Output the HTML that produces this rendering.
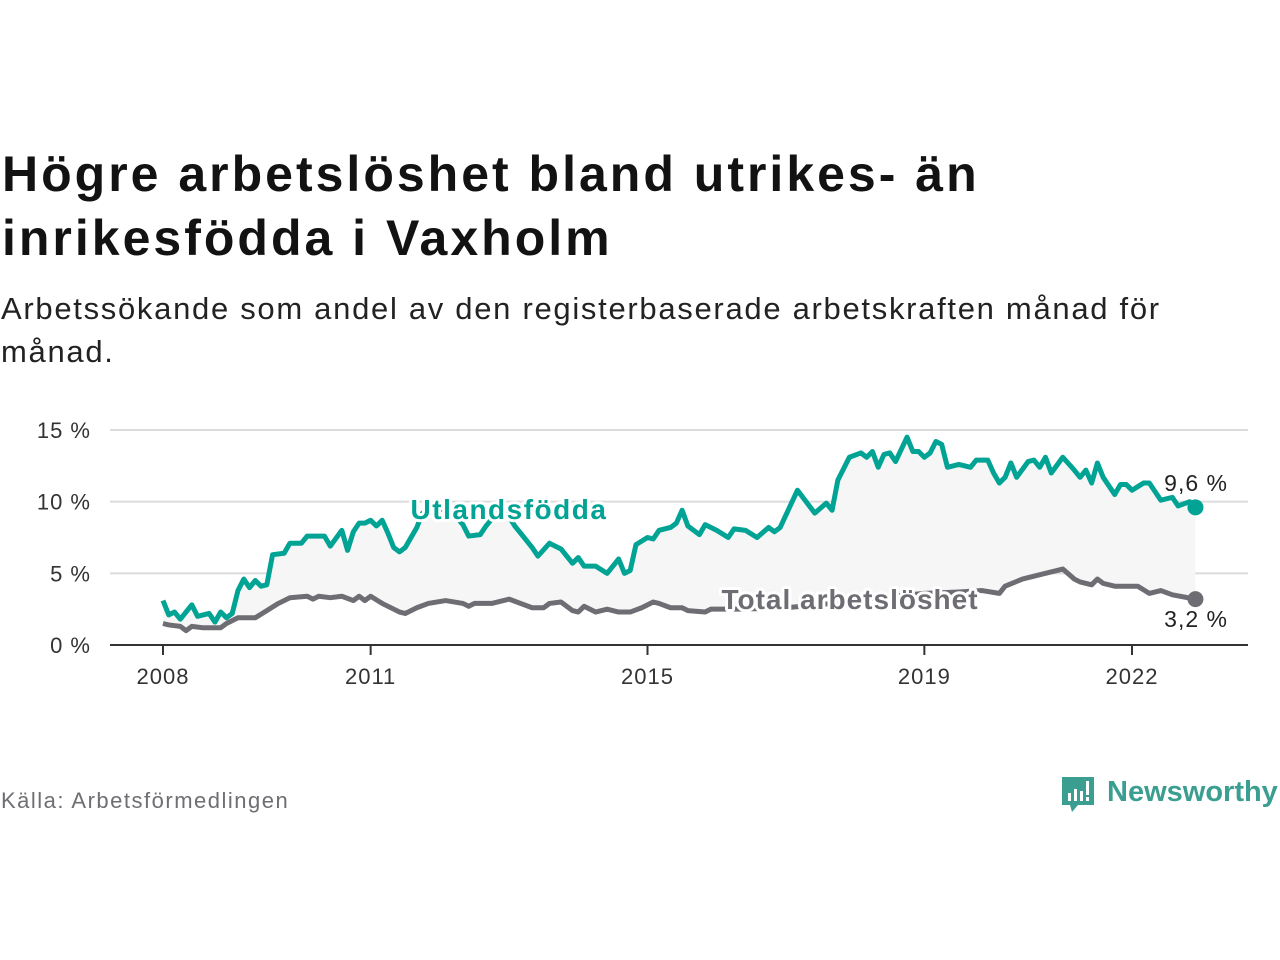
<!DOCTYPE html>
<html><head><meta charset="utf-8">
<style>
body{margin:0;background:#fff;width:1280px;height:960px;overflow:hidden;font-family:"Liberation Sans","DejaVu Sans",sans-serif;}
#title{position:absolute;left:2px;top:142px;font-size:50px;font-weight:bold;line-height:64px;color:#121212;margin:0;letter-spacing:3px}
#sub{position:absolute;left:1px;top:287px;font-size:31px;line-height:43px;color:#222;letter-spacing:1.7px}
#src{position:absolute;left:1px;top:788px;font-size:22px;color:#6e6e73;letter-spacing:1.5px}
#logo{position:absolute;left:1060px;top:773px;}
svg text{font-family:"Liberation Sans","DejaVu Sans",sans-serif}
</style></head><body>
<h1 id="title">Högre arbetslöshet bland utrikes- än<br>inrikesfödda i Vaxholm</h1>
<div id="sub">Arbetssökande som andel av den registerbaserade arbetskraften månad för<br>månad.</div>
<div id="src">Källa: Arbetsförmedlingen</div>
<svg id="logo" width="220" height="46">
<path d="M2 4 h32 v28 h-16 l-6 7 l-2 -7 h-8 z" fill="#3a9e91"/>
<rect x="8" y="20" width="3" height="8" fill="#fff"/><rect x="14" y="16" width="3" height="12" fill="#fff"/><rect x="20" y="18" width="3" height="10" fill="#fff"/><rect x="26" y="8" width="3" height="14" fill="#fff"/><rect x="26" y="24" width="3" height="4" fill="#fff"/>
<text x="47" y="28" font-size="29" font-weight="bold" fill="#3a9e91">Newsworthy</text>
</svg>
<svg id="chart" width="1280" height="960" style="position:absolute;left:0;top:0"></svg>
<script>
const yTicks=[0,5,10,15];
const yTickLabels=["0 %","5 %","10 %","15 %"];
const xTickYears=[2008,2011,2015,2019,2022];
const foreignMonths=[0,1,2,3,5,6,8,9,10,11,12,13,14,15,16,17,18,19,21,22,24,25,28,29,31,32,33,34,35,36,37,38,39,40,41,42,44,45,47,50,52,53,55,56,58,59,61,63,64,65,67,69,71,72,73,75,77,79,80,81,82,84,85,86,88,89,90,91,93,94,96,98,99,101,103,105,106,107,110,113,115,116,117,119,121,122,123,124,125,126,127,129,130,131,132,133,134,135,136,138,140,141,143,144,145,146,147,148,150,151,152,153,154,156,158,159,160,161,162,163,165,166,167,168,170,171,173,175,176,178,179];
const foreignValues=[3.1,2.1,2.3,1.8,2.8,2.0,2.2,1.6,2.3,1.9,2.2,3.8,4.6,4.0,4.5,4.1,4.2,6.3,6.4,7.1,7.1,7.6,7.6,6.9,8.0,6.6,7.9,8.5,8.5,8.7,8.3,8.7,7.8,6.8,6.5,6.8,8.2,9.2,9.6,9.3,8.4,7.6,7.7,8.3,9.3,9.6,8.3,7.3,6.8,6.2,7.1,6.7,5.7,6.1,5.5,5.5,5.0,6.0,5.0,5.2,7.0,7.5,7.4,8.0,8.2,8.5,9.4,8.3,7.7,8.4,8.0,7.5,8.1,8.0,7.5,8.2,7.9,8.2,10.8,9.2,9.9,9.4,11.5,13.1,13.4,13.1,13.5,12.4,13.3,13.4,12.8,14.5,13.5,13.5,13.1,13.4,14.2,14.0,12.4,12.6,12.4,12.9,12.9,12.0,11.3,11.7,12.7,11.7,12.8,12.9,12.4,13.1,12.0,13.1,12.2,11.7,12.2,11.3,12.7,11.7,10.5,11.2,11.2,10.8,11.3,11.3,10.1,10.3,9.7,10.0,9.6];
const totalMonths=[0,1,3,4,5,7,10,11,13,16,18,20,22,25,26,27,29,31,33,34,35,36,38,41,42,44,46,49,52,53,54,57,60,62,64,66,67,69,71,72,73,75,77,79,81,83,85,86,88,90,91,94,95,100,108,116,124,132,138,142,145,146,149,151,153,156,158,159,161,162,163,165,168,169,171,173,175,179];
const totalValues=[1.5,1.4,1.3,1.0,1.3,1.2,1.2,1.5,1.9,1.9,2.4,2.9,3.3,3.4,3.2,3.4,3.3,3.4,3.1,3.4,3.1,3.4,2.9,2.3,2.2,2.6,2.9,3.1,2.9,2.7,2.9,2.9,3.2,2.9,2.6,2.6,2.9,3.0,2.4,2.3,2.7,2.3,2.5,2.3,2.3,2.6,3.0,2.9,2.6,2.6,2.4,2.3,2.5,2.5,2.6,2.9,3.3,3.6,3.7,3.8,3.6,4.1,4.6,4.8,5.0,5.3,4.6,4.4,4.2,4.6,4.3,4.1,4.1,4.1,3.6,3.8,3.5,3.2];
(function(){
const NS="http://www.w3.org/2000/svg";
const svg=document.getElementById('chart');
const x=m=>163+m*(1132-163)/168;
const xYear=yr=>x((yr-2008)*12);
const y=v=>645-v*(645-430)/15;
function mk(t,a){const e=document.createElementNS(NS,t);for(const k in a)e.setAttribute(k,a[k]);svg.appendChild(e);return e;}
yTicks.forEach((t,i)=>{
  if(t>0){const g=mk('line',{x1:110,x2:1248,y1:y(t),y2:y(t),stroke:'#dcdcdc','stroke-width':2});
  
  }
  const l=mk('text',{x:91,y:y(t)+8,'text-anchor':'end','font-size':22,fill:'#333','letter-spacing':1});l.textContent=yTickLabels[i];
  
  
});
const upper=foreignMonths.map((m,i)=>x(m)+','+y(foreignValues[i]));
const lower=totalMonths.map((m,i)=>x(m)+','+y(totalValues[i])).reverse();
const area=mk('polygon',{points:upper.concat(lower).join(' '),fill:'#f6f6f6'});


const ax=mk('line',{x1:110,x2:1248,y1:645,y2:645,stroke:'#333','stroke-width':2});


xTickYears.forEach(yr=>{
  const tk=mk('line',{x1:xYear(yr),x2:xYear(yr),y1:645,y2:655,stroke:'#333','stroke-width':2});
  
  
  const l=mk('text',{x:xYear(yr),y:684,'text-anchor':'middle','font-size':22,fill:'#333','letter-spacing':1});l.textContent=yr;
  
  
});
const lt=mk('polyline',{points:totalMonths.map((m,i)=>x(m)+','+y(totalValues[i])).join(' '),fill:'none',stroke:'#6e6d73','stroke-width':5,'stroke-linejoin':'round'});


const lf=mk('polyline',{points:foreignMonths.map((m,i)=>x(m)+','+y(foreignValues[i])).join(' '),fill:'none',stroke:'#00a394','stroke-width':5,'stroke-linejoin':'round'});


const lm=totalMonths[totalMonths.length-1];
const d1=mk('circle',{cx:x(lm),cy:y(totalValues[totalValues.length-1]),r:8,fill:'#6e6d73'});


const fm=foreignMonths[foreignMonths.length-1];
const d2=mk('circle',{cx:x(fm),cy:y(foreignValues[foreignValues.length-1]),r:8,fill:'#00a394'});


function lab(txt,xx,yy,col,sz,w,anchor,name,ls){
  const h=mk('text',{x:xx,y:yy,'font-size':sz,'font-weight':w,fill:'#fff',stroke:'#fff','stroke-width':6,'stroke-linejoin':'round','text-anchor':anchor,'letter-spacing':ls});h.textContent=txt;
  
  
  const t=mk('text',{x:xx,y:yy,'font-size':sz,'font-weight':w,fill:col,'text-anchor':anchor,'letter-spacing':ls});t.textContent=txt;
  
  
}
lab('Utlandsfödda',509,519,'#00a394',28,'bold','middle','foreign-born-label',1.5);
lab('Total arbetslöshet',850,609,'#6e6d73',28,'bold','middle','total-label',1);
lab('9,6 %',1228,491,'#222',23,'normal','end','foreign-end-value',1);
lab('3,2 %',1228,627,'#222',23,'normal','end','total-end-value',1);
})();
</script>
</body></html>
